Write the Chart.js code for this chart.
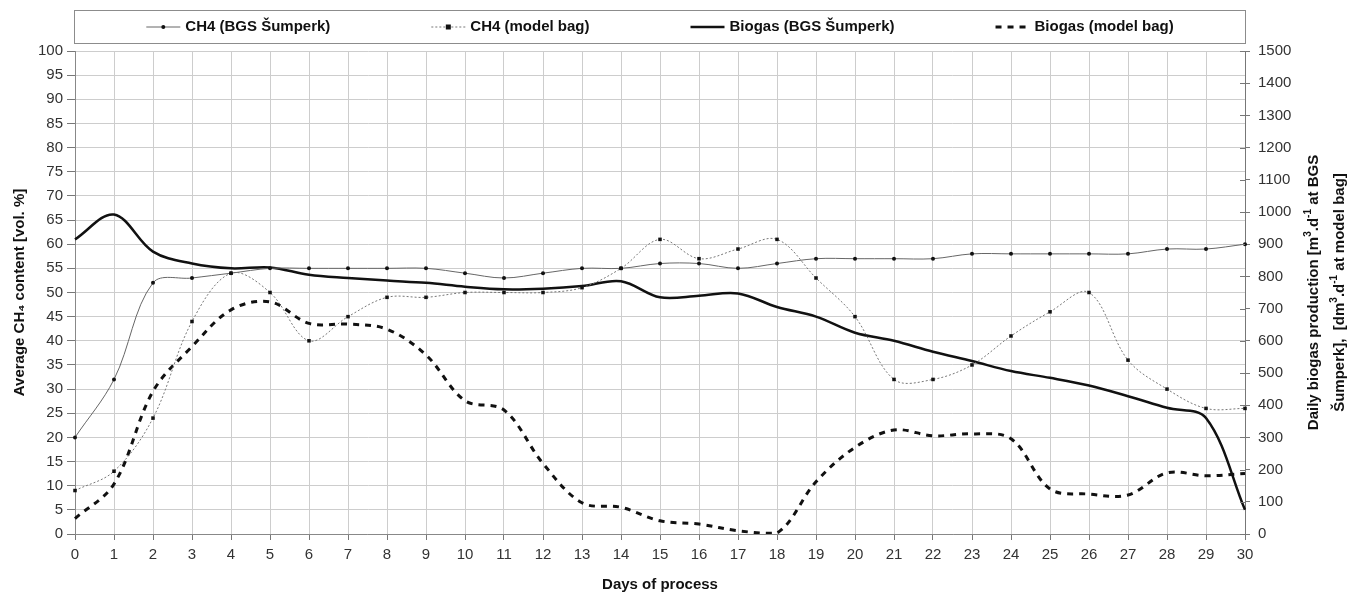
<!DOCTYPE html>
<html>
<head>
<meta charset="utf-8">
<script src="https://cdn.jsdelivr.net/npm/chart.js@4.4.1/dist/chart.umd.min.js"></script>
<style>
html,body{margin:0;padding:0;background:#fff;}
#wrap{width:1353px;height:594px;}
</style>
</head>
<body>
<div id="wrap"><canvas id="myChart" width="1353" height="594"></canvas></div>
<script>
// days of process (x axis)
const days = [0,1,2,3,4,5,6,7,8,9,10,11,12,13,14,15,16,17,18,19,20,21,22,23,24,25,26,27,28,29,30];
// CH4 content [vol. %] - left axis
const ch4Bgs = [20,32,52,53,54,55,55,55,55,55,54,53,54,55,55,56,56,55,56,57,57,57,57,58,58,58,58,58,59,59,60];
const ch4Bag = [9,13,24,44,54,50,40,45,49,49,50,50,50,51,55,61,57,59,61,53,45,32,32,35,41,46,50,36,30,26,26];
// daily biogas production - right axis
const biogasBgs = [915,992,877,840,825,828,805,795,787,780,768,760,762,770,785,735,740,747,705,675,625,600,566,537,506,485,461,428,392,360,75];
const biogasBag = [48,155,443,582,696,721,654,652,636,556,414,385,219,97,83,41,31,10,3,162,269,323,305,311,296,140,124,121,190,181,188];

const FONT = '"Liberation Sans", Arial, sans-serif';

// legend in a framed box above the plot
const legendBox = {
  id: 'legendBox',
  afterDraw(chart) {
    const ctx = chart.ctx;
    const ca = chart.chartArea;
    const top = 10, h = 33;
    ctx.save();
    ctx.strokeStyle = '#8c8c8c';
    ctx.lineWidth = 1;
    ctx.strokeRect(Math.round(ca.left) - 0.5, top + 0.5, Math.round(ca.right - ca.left) + 1, h);
    ctx.font = 'bold 15px ' + FONT;
    const sample = 34, gapText = 5, gapItem = 101;
    const items = chart.data.datasets.map(ds => ({ds: ds, w: sample + gapText + ctx.measureText(ds.label).width}));
    const total = items.reduce((s, it) => s + it.w, 0) + gapItem * (items.length - 1);
    let x = (ca.left + ca.right) / 2 - total / 2;
    const y = top + h / 2 + 0.5;
    items.forEach(it => {
      const ds = it.ds;
      ctx.strokeStyle = ds.borderColor;
      ctx.lineWidth = ds.borderWidth;
      ctx.setLineDash(ds.borderDash || []);
      ctx.beginPath();
      ctx.moveTo(x, y);
      ctx.lineTo(x + sample, y);
      ctx.stroke();
      ctx.setLineDash([]);
      if (ds.pointRadius > 0) {
        ctx.fillStyle = ds.pointBackgroundColor;
        const r = ds.pointRadius;
        if (ds.pointStyle === 'rect') {
          ctx.fillRect(x + sample / 2 - r, y - r, r * 2, r * 2);
        } else {
          ctx.beginPath();
          ctx.arc(x + sample / 2, y, r, 0, Math.PI * 2);
          ctx.fill();
        }
      }
      ctx.fillStyle = '#111';
      ctx.textBaseline = 'middle';
      ctx.textAlign = 'left';
      ctx.fillText(ds.label, x + sample + gapText, y);
      x += it.w + gapItem;
    });
    ctx.restore();
  }
};

// right axis: inner tick marks and a bottom-to-top title with superscripts
const rightAxisExtras = {
  id: 'rightAxisExtras',
  afterDraw(chart) {
    const ctx = chart.ctx;
    const ca = chart.chartArea;
    const sc = chart.scales.y1;
    ctx.save();
    ctx.strokeStyle = '#777';
    ctx.lineWidth = 1;
    sc.ticks.forEach(t => {
      const py = Math.round(sc.getPixelForValue(t.value)) + 0.5;
      ctx.beginPath();
      ctx.moveTo(ca.right - 5, py);
      ctx.lineTo(ca.right, py);
      ctx.stroke();
    });
    const lines = [
      [['Daily biogas production [m', 0], ['3', 1], ['.d', 0], ['-1', 1], [' at BGS', 0]],
      [['Šumperk],  [dm', 0], ['3', 1], ['.d', 0], ['-1', 1], [' at model bag]', 0]]
    ];
    const xs = [1314, 1340];
    const cy = (ca.top + ca.bottom) / 2;
    const big = 'bold 15px ' + FONT, small = 'bold 10px ' + FONT;
    ctx.fillStyle = '#111';
    ctx.textBaseline = 'middle';
    ctx.textAlign = 'left';
    lines.forEach((segs, i) => {
      let w = 0;
      segs.forEach(s => { ctx.font = s[1] ? small : big; w += ctx.measureText(s[0]).width; });
      ctx.save();
      ctx.translate(xs[i], cy);
      ctx.rotate(-Math.PI / 2);
      let px = -w / 2;
      segs.forEach(s => {
        ctx.font = s[1] ? small : big;
        ctx.fillText(s[0], px, s[1] ? -6 : 0);
        px += ctx.measureText(s[0]).width;
      });
      ctx.restore();
    });
    ctx.restore();
  }
};

new Chart('myChart', {
  type: 'line',
  data: {
    labels: days,
    datasets: [
      {
        label: 'CH4 (BGS Šumperk)',
        data: ch4Bgs,
        yAxisID: 'y',
        borderColor: '#666',
        borderWidth: 1,
        tension: 0.35,
        pointRadius: 2,
        pointStyle: 'circle',
        pointBackgroundColor: '#111',
        pointBorderWidth: 0
      },
      {
        label: 'CH4 (model bag)',
        data: ch4Bag,
        yAxisID: 'y',
        borderColor: '#777',
        borderWidth: 1,
        borderDash: [2, 2],
        tension: 0.35,
        pointRadius: 2.5,
        pointStyle: 'rect',
        pointBackgroundColor: '#111',
        pointBorderWidth: 0
      },
      {
        label: 'Biogas (BGS Šumperk)',
        data: biogasBgs,
        yAxisID: 'y1',
        borderColor: '#111',
        borderWidth: 2.5,
        tension: 0.35,
        pointRadius: 0
      },
      {
        label: 'Biogas (model bag)',
        data: biogasBag,
        yAxisID: 'y1',
        borderColor: '#111',
        borderWidth: 3,
        borderDash: [6, 6],
        tension: 0.35,
        pointRadius: 0
      }
    ]
  },
  options: {
    responsive: false,
    animation: false,
    layout: { padding: { top: 51, left: 0, right: 0, bottom: 0 } },
    plugins: {
      legend: { display: false },
      tooltip: { enabled: false }
    },
    scales: {
      x: {
        offset: false,
        grid: { color: '#cdcdcd', tickColor: '#777', tickLength: 6 },
        border: { color: '#888' },
        ticks: { color: '#333', font: { family: FONT, size: 15 }, padding: 6, maxRotation: 0, autoSkip: false },
        title: { display: true, text: 'Days of process', color: '#111', font: { family: FONT, size: 15, weight: 'bold' }, padding: { top: 0, bottom: 0 } },
        afterFit(scale) { scale.height = 60; }
      },
      y: {
        position: 'left',
        min: 0,
        max: 100,
        grid: { color: '#cdcdcd', tickColor: '#777', tickLength: 8 },
        border: { color: '#888' },
        ticks: { stepSize: 5, color: '#333', font: { family: FONT, size: 15 }, padding: 4 },
        title: { display: true, text: 'Average CH₄ content [vol. %]', color: '#111', font: { family: FONT, size: 15, weight: 'bold' }, padding: { top: 11, bottom: 0 } },
        afterFit(scale) { scale.width = 75; }
      },
      y1: {
        position: 'right',
        min: 0,
        max: 1500,
        grid: { drawOnChartArea: false, tickColor: '#777', tickLength: 5 },
        border: { color: '#777' },
        ticks: { stepSize: 100, color: '#333', font: { family: FONT, size: 15 }, padding: 8, callback: v => String(v) },
        afterFit(scale) { scale.width = 108; }
      }
    }
  },
  plugins: [legendBox, rightAxisExtras]
});
</script>
</body>
</html>
